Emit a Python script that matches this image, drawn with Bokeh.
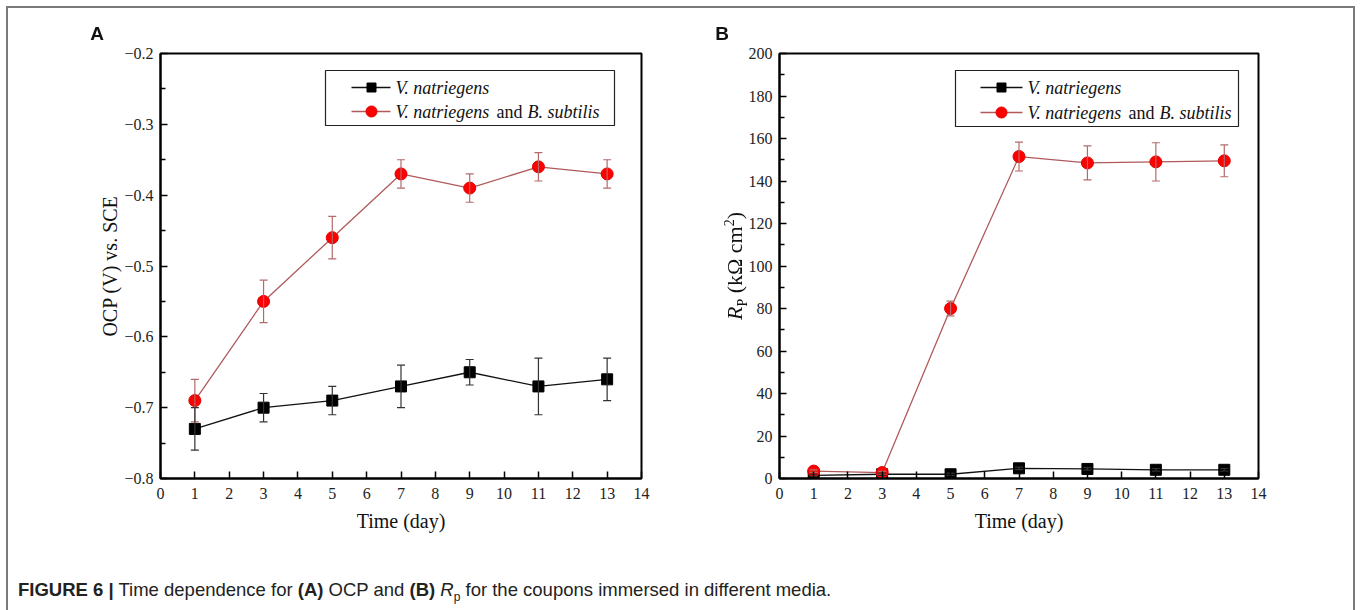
from bokeh.plotting import figure
from bokeh.models import (ColumnDataSource, Whisker, TeeHead, Label, BoxAnnotation,
                          FixedTicker, CustomJSTickFormatter, Range1d, Div)
from bokeh.layouts import row, column
from bokeh.embed import file_html
from bokeh.resources import INLINE

# ---------------- data ----------------
days = [1, 3, 5, 7, 9, 11, 13]

ocp_vn = [-0.73, -0.70, -0.69, -0.67, -0.65, -0.67, -0.66]
ocp_vn_err = [0.03, 0.02, 0.02, 0.03, 0.018, 0.04, 0.03]
ocp_mix = [-0.69, -0.55, -0.46, -0.37, -0.39, -0.36, -0.37]
ocp_mix_err = [0.03, 0.03, 0.03, 0.02, 0.02, 0.02, 0.02]

rp_vn = [1.5, 2.0, 2.0, 4.8, 4.5, 4.1, 4.1]
rp_vn_err = [0.5, 0.5, 0.5, 0.6, 0.6, 0.6, 0.6]
rp_mix = [3.5, 2.8, 80.0, 151.5, 148.5, 149.0, 149.5]
rp_mix_err = [0.6, 0.6, 3.5, 6.8, 8.0, 9.0, 7.5]

x_ticks = list(range(0, 15))
ocp_major = [-0.8, -0.7, -0.6, -0.5, -0.4, -0.3, -0.2]
ocp_minor = [-0.75, -0.65, -0.55, -0.45, -0.35, -0.25]
rp_major = [0, 20, 40, 60, 80, 100, 120, 140, 160, 180, 200]
rp_minor = [10, 30, 50, 70, 90, 110, 130, 150, 170, 190]

legend_vn = "V. natriegens"
legend_and = "and"
legend_bs = "B. subtilis"

SERIF = "Liberation Serif"
TICK_FONT = "'Liberation Serif', serif"
RED_LINE = "#b05a5a"
RED_ERR = "#b46a6a"


def make_panel(y0, y1, major, minor, fmt_code, left, right):
    p = figure(width=681, height=545, x_range=Range1d(0, 14), y_range=Range1d(y0, y1),
               output_backend="svg", toolbar_location=None, title=None,
               min_border_left=left, min_border_right=right,
               min_border_top=53, min_border_bottom=67)
    p.grid.visible = False
    p.outline_line_color = "black"
    p.outline_line_width = 2
    p.background_fill_color = "white"
    p.border_fill_color = "white"
    p.axis.axis_line_width = 2
    p.axis.axis_line_color = "black"
    p.axis.major_tick_line_color = "black"
    p.axis.minor_tick_line_color = "black"
    p.axis.major_tick_line_width = 1.5
    p.axis.minor_tick_line_width = 1.5
    p.axis.major_tick_in = 7
    p.axis.major_tick_out = 0
    p.axis.major_label_text_font = TICK_FONT
    p.axis.major_label_text_font_size = "16px"
    p.axis.major_label_text_color = "#222222"
    p.axis.axis_label_text_font = SERIF
    p.axis.axis_label_text_font_size = "20px"
    p.axis.axis_label_text_font_style = "normal"
    p.axis.axis_label_text_color = "#111111"
    xa = p.xaxis[0]
    xa.ticker = FixedTicker(ticks=x_ticks)
    xa.minor_tick_in = 0
    xa.minor_tick_out = 0
    xa.major_label_standoff = 9
    xa.axis_label = "Time (day)"
    xa.axis_label_standoff = 8
    ya = p.yaxis[0]
    ya.ticker = FixedTicker(ticks=major, minor_ticks=minor)
    ya.minor_tick_in = 5
    ya.minor_tick_out = 0
    ya.major_label_standoff = 7
    ya.formatter = CustomJSTickFormatter(code=fmt_code)
    return p


def add_series(p, y_vn, e_vn, y_mix, e_mix):
    s_vn = ColumnDataSource(dict(x=days, y=y_vn,
                                 lo=[v - e for v, e in zip(y_vn, e_vn)],
                                 hi=[v + e for v, e in zip(y_vn, e_vn)]))
    s_mix = ColumnDataSource(dict(x=days, y=y_mix,
                                  lo=[v - e for v, e in zip(y_mix, e_mix)],
                                  hi=[v + e for v, e in zip(y_mix, e_mix)]))
    p.line("x", "y", source=s_mix, line_color=RED_LINE, line_width=1.3)
    p.line("x", "y", source=s_vn, line_color="#111111", line_width=1.3)
    for src, col in ((s_mix, RED_ERR), (s_vn, "#333333")):
        w = Whisker(source=src, base="x", lower="lo", upper="hi", dimension="height",
                    line_color=col, line_width=1.2, level="glyph",
                    lower_head=TeeHead(size=8, line_color=col, line_width=1.2),
                    upper_head=TeeHead(size=8, line_color=col, line_width=1.2))
        p.add_layout(w)
    p.scatter("x", "y", source=s_vn, marker="square", size=11, fill_color="black",
              line_color="black")
    p.scatter("x", "y", source=s_mix, marker="circle", size=12, fill_color="#ff0000",
              line_color="#e00000")


def add_legend(p, fx, fy, box, rows, line_px, marker_px, text_px):
    l, r, t, b = box
    p.add_layout(BoxAnnotation(left=fx(l), right=fx(r), top=fy(t), bottom=fy(b),
                               fill_color="white", fill_alpha=1.0, line_color="#222222",
                               line_width=1.2, line_alpha=1.0, level="underlay"))
    (y1, y2) = rows
    p.line([fx(line_px[0]), fx(line_px[1])], [fy(y1), fy(y1)], line_color="#111111", line_width=1.3)
    p.scatter([fx(marker_px)], [fy(y1)], marker="square", size=9, fill_color="black",
              line_color="black")
    p.line([fx(line_px[0]), fx(line_px[1])], [fy(y2), fy(y2)], line_color=RED_LINE, line_width=1.3)
    p.scatter([fx(marker_px)], [fy(y2)], marker="circle", size=11, fill_color="#ff0000",
              line_color="#e00000")
    kw = dict(text_font=SERIF, text_font_size="18px", text_color="#111111",
              text_baseline="middle", text_align="left")
    p.add_layout(Label(x=fx(text_px), y=fy(y1), text=legend_vn, text_font_style="italic", **kw))
    p.add_layout(Label(x=fx(text_px), y=fy(y2), text=legend_vn, text_font_style="italic", **kw))
    p.add_layout(Label(x=fx(text_px + 101), y=fy(y2), text=legend_and, text_font_style="normal", **kw))
    p.add_layout(Label(x=fx(text_px + 132), y=fy(y2), text=legend_bs, text_font_style="italic", **kw))


# ---------------- panel A ----------------
fmtA = "return (tick < 0 ? '\u2212' : '') + Math.abs(tick).toFixed(1);"
pA = make_panel(-0.8, -0.2, ocp_major, ocp_minor, fmtA, 160, 40)
pA.yaxis[0].axis_label = "OCP (V) vs. SCE"
pA.yaxis[0].axis_label_standoff = 0
add_series(pA, ocp_vn, ocp_vn_err, ocp_mix, ocp_mix_err)

fxA = lambda px: (px - 160) / (481 / 14)
fyA = lambda py: -0.8 + (478 - py) / 425 * 0.6
add_legend(pA, fxA, fyA, (325, 614, 70, 125), (87, 111), (351, 390), 371, 395)

# ---------------- panel B ----------------
fmtB = "return tick.toFixed(0);"
pB = make_panel(0, 200, rp_major, rp_minor, fmtB, 98, 104)
add_series(pB, rp_vn, rp_vn_err, rp_mix, rp_mix_err)

fxB = lambda px: (px - 779) / (479 / 14)
fyB = lambda py: (478 - py) / 425 * 200
add_legend(pB, fxB, fyB, (955, 1238, 70, 126), (87, 112), (980, 1022), 1001, 1027)

# ---------------- caption + overlays (frame, panel letters, R_P axis title) ----------------
overlay = (
    "<div style=\"position:fixed;left:6px;top:6px;width:1349px;height:700px;"
    "box-sizing:border-box;border:2px solid #7a7a7a;pointer-events:none;z-index:5;\"></div>"
    "<div style=\"position:fixed;left:97px;top:33px;transform:translate(-50%,-50%);"
    "font-family:'Liberation Sans';font-weight:bold;font-size:19px;color:#111;z-index:5;\">A</div>"
    "<div style=\"position:fixed;left:722px;top:33px;transform:translate(-50%,-50%);"
    "font-family:'Liberation Sans';font-weight:bold;font-size:19px;color:#111;z-index:5;\">B</div>"
    "<div style=\"position:fixed;left:735px;top:266px;transform:translate(-50%,-50%) rotate(-90deg);"
    "white-space:nowrap;font-family:'Liberation Serif';font-size:22px;color:#111;line-height:1;z-index:5;\">"
    "<i>R</i><sub style='font-size:14px;line-height:0;'>P</sub> (k\u03a9 cm"
    "<sup style='font-size:14px;line-height:0;'>2</sup>)</div>"
)

caption = Div(
    text=(overlay +
          "<b>FIGURE 6 |</b> Time dependence for <b>(A)</b> OCP and <b>(B)</b> "
          "<i>R</i><sub style='font-size:12px;line-height:0;'>p</sub> for the coupons immersed in different media."),
    width=1362, height=65,
    styles={"font-family": "Liberation Sans", "font-size": "18.5px", "color": "#222222",
            "padding-left": "13px", "padding-top": "31px", "box-sizing": "border-box",
            "line-height": "1"})

layout = column(row(pA, pB), caption)

open("out.html", "w").write(file_html(layout, INLINE))
